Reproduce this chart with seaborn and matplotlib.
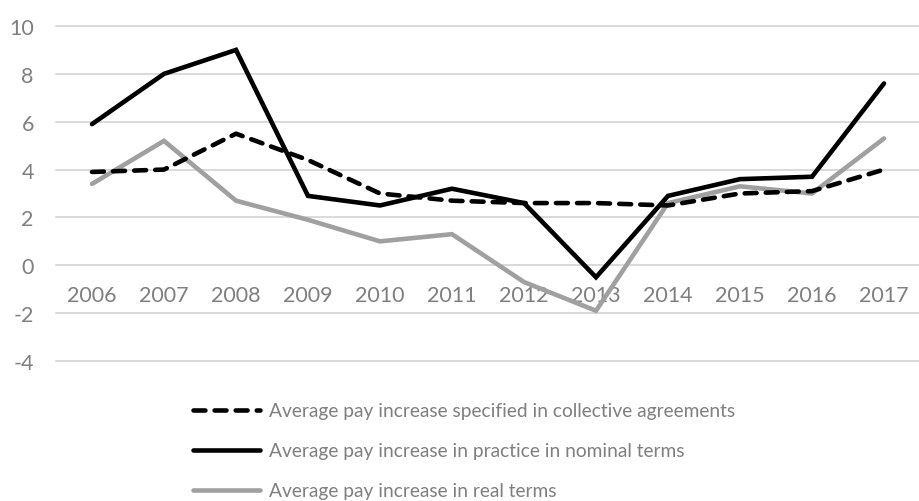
import matplotlib
matplotlib.use("Agg")
import matplotlib.pyplot as plt
import seaborn as sns
import pandas as pd
from matplotlib.lines import Line2D

years = ["2006", "2007", "2008", "2009", "2010", "2011", "2012", "2013", "2014", "2015", "2016", "2017"]
agreements = [3.9, 4.0, 5.5, 4.4, 3.0, 2.7, 2.6, 2.6, 2.5, 3.0, 3.1, 4.0]
nominal = [5.9, 8.0, 9.0, 2.9, 2.5, 3.2, 2.6, -0.5, 2.9, 3.6, 3.7, 7.6]
real = [3.4, 5.2, 2.7, 1.9, 1.0, 1.3, -0.7, -1.9, 2.6, 3.3, 3.0, 5.3]
labels = ["Average pay increase specified in collective agreements",
          "Average pay increase in practice in nominal terms",
          "Average pay increase in real terms"]
yticks = [-4, -2, 0, 2, 4, 6, 8, 10]

sns.set_theme(style="white")
plt.rcParams['font.family'] = ['Lato', 'DejaVu Sans']

txt_color = "#7f7f7f"
grid_color = "#d9d9d9"

fig = plt.figure(figsize=(9.2, 5.02), dpi=100)
ax = fig.add_axes([56/920, (502-362)/502, 1 - 56/920, (362-27)/502])

df = pd.DataFrame({"year": years, "agreements": agreements, "nominal": nominal, "real": real})
x = list(range(len(years)))

for yv in yticks:
    ax.axhline(yv, color=grid_color, lw=1.4, zorder=0, clip_on=False)

sns.lineplot(x=x, y=df["nominal"], ax=ax, color="black", lw=3.3, zorder=3,
             solid_capstyle="round", solid_joinstyle="miter")
sns.lineplot(x=x, y=df["real"], ax=ax, color="#a0a0a0", lw=3.3, zorder=2,
             solid_capstyle="round", solid_joinstyle="miter")
sns.lineplot(x=x, y=df["agreements"], ax=ax, color="black", lw=3.3, zorder=4,
             dashes=False)
ax.lines[-1].set_dashes([2.6, 2.0])
ax.lines[-1].set_dash_capstyle("round")

ax.set_xlim(-0.5, 11.5)
ax.set_ylim(-4, 10)
ax.set_yticks(yticks)
ax.set_yticklabels([str(v) for v in yticks])
ax.set_xticks(x)
ax.set_xticklabels(years)
for s in ax.spines.values():
    s.set_visible(False)
ax.spines['bottom'].set_position(('data', 0))
ax.tick_params(axis='x', length=0, pad=14, labelsize=15.5, labelcolor=txt_color)
ax.tick_params(axis='y', length=0, pad=16, labelsize=15.5, labelcolor=txt_color)
ax.set_xlabel("")
ax.set_ylabel("")

handles = [
    Line2D([], [], color="black", lw=3.3, dashes=[2.6, 2.0], dash_capstyle="round"),
    Line2D([], [], color="black", lw=3.3, solid_capstyle="round"),
    Line2D([], [], color="#a0a0a0", lw=3.3, solid_capstyle="round"),
]
leg = fig.legend(handles, labels, loc="center left",
                 bbox_to_anchor=(193/920, (502-452)/502), bbox_transform=fig.transFigure,
                 frameon=False, fontsize=13.8, handlelength=3.5, handletextpad=0.45,
                 labelspacing=1.2, borderpad=0, borderaxespad=0)
for t in leg.get_texts():
    t.set_color(txt_color)

fig.savefig("out.png", dpi=100)
